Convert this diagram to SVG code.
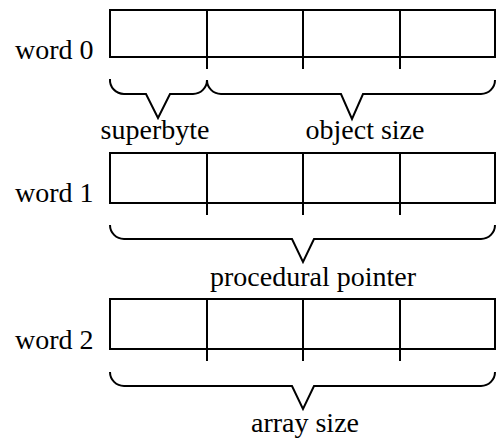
<svg xmlns="http://www.w3.org/2000/svg" width="497" height="444" viewBox="0 0 497 444">
  <style>
    .cell { fill: none; stroke: #000; stroke-width: 2; }
    .tick { stroke: #000; stroke-width: 2; }
    .brace { fill: none; stroke: #000; stroke-width: 2; stroke-linejoin: miter; }
    text { font-family: "Liberation Serif", "Times New Roman", serif; font-size: 28px; fill: #000; }
    .mid { text-anchor: middle; }
  </style>
  <rect width="497" height="444" fill="#fff"/>

  <!-- word 0: four bytes, superbyte + object size -->
  <g id="word0">
    <text x="15" y="59">word 0</text>
    <rect class="cell" x="110" y="10" width="385" height="47"/>
    <line class="tick" x1="207" y1="10" x2="207" y2="69"/>
    <line class="tick" x1="303" y1="10" x2="303" y2="69"/>
    <line class="tick" x1="400" y1="10" x2="400" y2="69"/>
  </g>

  <g id="word1">
    <text x="15" y="202">word 1</text>
    <rect class="cell" x="110" y="153" width="385" height="50"/>
    <line class="tick" x1="207" y1="153" x2="207" y2="215"/>
    <line class="tick" x1="303" y1="153" x2="303" y2="215"/>
    <line class="tick" x1="400" y1="153" x2="400" y2="215"/>
  </g>

  <g id="word2">
    <text x="15" y="349">word 2</text>
    <rect class="cell" x="110" y="299" width="385" height="50"/>
    <line class="tick" x1="207" y1="299" x2="207" y2="361"/>
    <line class="tick" x1="303" y1="299" x2="303" y2="361"/>
    <line class="tick" x1="400" y1="299" x2="400" y2="361"/>
  </g>

  <!-- braces with their labels -->
  <g id="braces">
    <path class="brace" d="M110,79 A14,14 0 0 0 124,94 H146 L158,118 L170,94 H193 A14,14 0 0 0 207,80 A14,14 0 0 0 221,94 H341 L352,119 L363,94 H481 A14,14 0 0 0 495,80"/>
    <path class="brace" d="M110,225 A14,14 0 0 0 124,239 H292 L303,262 L314,239 H481 A14,14 0 0 0 495,225"/>
    <path class="brace" d="M110,372 A14,14 0 0 0 124,386 H292 L303,409 L314,386 H481 A14,14 0 0 0 495,372"/>
  </g>

  <g id="labels">
    <text class="mid" x="155" y="139">superbyte</text>
    <text class="mid" x="365" y="139">object size</text>
    <text class="mid" x="313" y="286">procedural pointer</text>
    <text class="mid" x="305" y="432">array size</text>
  </g>
</svg>
